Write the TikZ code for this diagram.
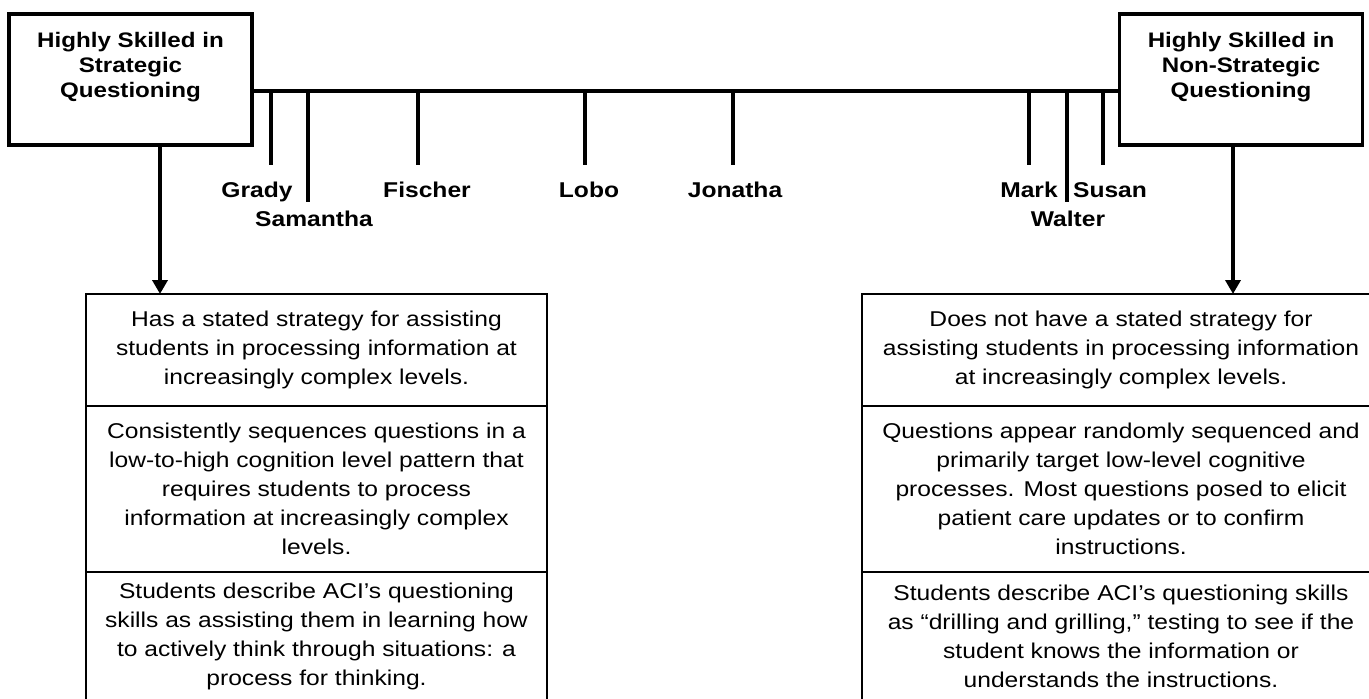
\documentclass[tikz,border=0pt]{standalone}
\usepackage{fontspec}
\setmainfont{Liberation Sans}[FakeStretch=1.15]
\usepackage{tikz}
\usetikzlibrary{arrows.meta,positioning}

\begin{document}
\begin{tikzpicture}[x=0.5pt,y=-0.5pt,>={Triangle[length=7pt,width=7.5pt]}]
  \tikzstyle{head box}=[rectangle,draw,line width=1.8pt,inner sep=0pt,
  			minimum width=121.5pt,minimum height=65.5pt]
  \tikzstyle{head}=[align=center,inner sep=0pt,font=\fontsize{10.5}{12.5}\selectfont\bfseries]
  \tikzstyle{person}=[anchor=base,inner sep=0pt,font=\fontsize{10.7}{12}\selectfont\bfseries]
  \tikzstyle{tick}=[line width=2pt]
  \tikzstyle{stem}=[line width=2pt,->]
  \tikzstyle{cell}=[rectangle,draw,line width=1.3pt,inner sep=0pt,outer sep=0pt,
  		    align=center,font=\fontsize{10.7}{14.5}\selectfont]
  \tikzstyle{left cell}=[cell,minimum width=230.5pt]
  \tikzstyle{right cell}=[cell,minimum width=259pt]

  \useasboundingbox (0,0) rectangle (1369,698);
  \clip (0,0) rectangle (1369,698);

  % the two ends of the scale
  \node [head box] (lbox) at (130.5,79.5) {};
  \node [head] (lhead) at (130.5,67) {Highly Skilled in\\Strategic\\Questioning};
  \node [head box] (rbox) at (1241,79.5) {};
  \node [head] (rhead) at (1241,67) {Highly Skilled in\\Non-Strategic\\Questioning};
  \draw [line width=2pt] ([yshift=-5.75pt]lbox.east) -- ([yshift=-5.75pt]rbox.west);

  % people on the scale
  \node [person] (grady)    at (257,197)  {Grady};
  \node [person] (samantha) at (314,226)  {Samantha};
  \node [person] (fischer)  at (427,197)  {Fischer};
  \node [person] (lobo)     at (589,197)  {Lobo};
  \node [person] (jonatha)  at (735,197)  {Jonatha};
  \node [person] (mark)     at (1029,197) {Mark};
  \node [person] (walter)   at (1068,226) {Walter};
  \node [person] (susan)    at (1110,197) {Susan};
  \draw [tick] (271,91)  -- (271,165);
  \draw [tick] (308,91)  -- (308,202);
  \draw [tick] (418,91)  -- (418,165);
  \draw [tick] (585,91)  -- (585,165);
  \draw [tick] (733,91)  -- (733,165);
  \draw [tick] (1029,91) -- (1029,165);
  \draw [tick] (1067,91) -- (1067,202);
  \draw [tick] (1103,91) -- (1103,165);

  % strategic column
  \node [left cell,minimum height=56pt] (lc1) at (316.5,350)
    {Has a stated strategy for assisting\\students in processing information at\\increasingly complex levels.};
  \node [left cell,minimum height=83pt,below=0pt of lc1] (lc2)
    {Consistently sequences questions in a\\low-to-high cognition level pattern that\\requires students to process\\information at increasingly complex\\levels.};
  \node [left cell,minimum height=64.5pt,below=0pt of lc2] (lc3)
    {Students describe ACI’s questioning\\skills as assisting them in learning how\\to actively think through situations: a\\process for thinking.};

  % non-strategic column
  \node [right cell,minimum height=56pt] (rc1) at (1121,350)
    {Does not have a stated strategy for\\assisting students in processing information\\at increasingly complex levels.};
  \node [right cell,minimum height=83pt,below=0pt of rc1] (rc2)
    {Questions appear randomly sequenced and\\primarily target low-level cognitive\\processes. Most questions posed to elicit\\patient care updates or to confirm\\instructions.};
  \node [right cell,minimum height=64.5pt,below=0pt of rc2] (rc3)
    {Students describe ACI’s questioning skills\\as “drilling and grilling,” testing to see if the\\student knows the information or\\understands the instructions.};

  \coordinate (lfoot) at ([xshift=14.75pt]lbox.south);
  \coordinate (rfoot) at ([xshift=-4pt]rbox.south);
  \draw [stem] (lfoot) -- (lfoot |- lc1.north);
  \draw [stem] (rfoot) -- (rfoot |- rc1.north);
\end{tikzpicture}
\end{document}
